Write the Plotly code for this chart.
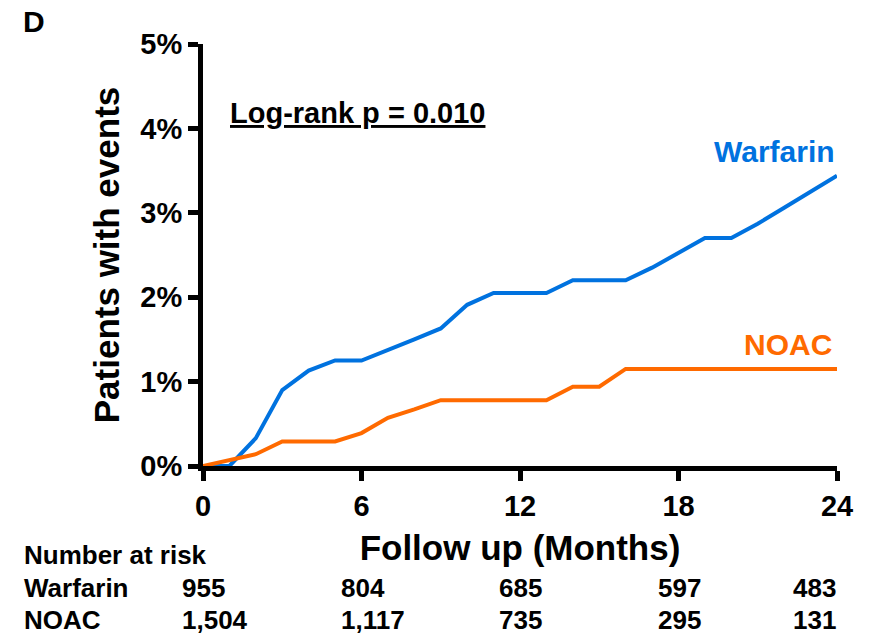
import plotly.graph_objects as go

# ---- data ----
months = list(range(25))
warfarin = [0, 0, 0.33, 0.90, 1.13, 1.25, 1.25, 1.37, 1.50, 1.63, 1.91, 2.05, 2.05,
            2.05, 2.20, 2.20, 2.20, 2.35, 2.52, 2.70, 2.70, 2.87, 3.06, 3.25, 3.44]
noac = [0, 0.07, 0.14, 0.29, 0.29, 0.29, 0.39, 0.57, 0.67, 0.78, 0.78, 0.78, 0.78,
        0.78, 0.94, 0.94, 1.15, 1.15, 1.15, 1.15, 1.15, 1.15, 1.15, 1.15, 1.15]

x_ticks = [0, 6, 12, 18, 24]
y_ticks = [0, 1, 2, 3, 4, 5]
y_tick_labels = ["0%", "1%", "2%", "3%", "4%", "5%"]

risk_months = [0, 6, 12, 18, 24]
warfarin_risk = ["955", "804", "685", "597", "483"]
noac_risk = ["1,504", "1,117", "735", "295", "131"]

BLUE = "#0072DF"
ORANGE = "#FF6A00"
FONT = "Liberation Sans, Arial, sans-serif"

fig = go.Figure()
fig.add_trace(go.Scatter(x=months, y=warfarin, mode="lines", name="Warfarin",
                         line=dict(color=BLUE, width=4), showlegend=False))
fig.add_trace(go.Scatter(x=months, y=noac, mode="lines", name="NOAC",
                         line=dict(color=ORANGE, width=4), showlegend=False))

axis_common = dict(showline=True, linecolor="black", linewidth=5, ticks="outside",
                   ticklen=10, tickwidth=5, tickcolor="black", showgrid=False,
                   zeroline=False, layer="below traces",
                   tickfont=dict(family=FONT, size=29, color="black", weight="bold"))

fig.update_xaxes(range=[0, 24], tickvals=x_ticks, **axis_common,
                 title=dict(text="Follow up (Months)", standoff=16,
                            font=dict(family=FONT, size=35, color="black", weight="bold")))
fig.update_yaxes(range=[0, 5], tickvals=y_ticks, ticktext=y_tick_labels, **axis_common,
                 title=dict(text="Patients with events", standoff=12,
                            font=dict(family=FONT, size=35, color="black", weight="bold")))

# figure sits 8px in from the page corner (default body margin)
ML, MT, PW, PH = 195, 36, 634.5, 422.5
W, H = 862, 627

def px_x(p):  # page pixel -> paper x
    return (p - 8 - ML) / PW

def px_y(p):  # page pixel -> paper y
    return (MT + PH - (p - 8)) / PH

ann = []
ann.append(dict(text="D", xref="paper", yref="paper", x=px_x(21), y=px_y(21),
                xanchor="left", yanchor="middle", showarrow=False,
                font=dict(family=FONT, size=30, color="black", weight="bold")))
ann.append(dict(text="Log-rank p = 0.010", xref="x", yref="y", x=0.95, y=4.18,
                xanchor="left", yanchor="middle", showarrow=False,
                font=dict(family=FONT, size=29, color="black", weight="bold",
                          lineposition="under")))
ann.append(dict(text="Warfarin", xref="x", yref="y", x=24, y=3.73, xanchor="right",
                yanchor="middle", showarrow=False,
                font=dict(family=FONT, size=30, color=BLUE, weight="bold")))
ann.append(dict(text="NOAC", xref="x", yref="y", x=24, y=1.44, xanchor="right",
                yanchor="middle", showarrow=False, xshift=-3,
                font=dict(family=FONT, size=30, color=ORANGE, weight="bold")))

tfont = dict(family=FONT, size=26, color="black", weight="bold")
row_y = [px_y(556), px_y(589), px_y(621)]
for txt, ry in (("Number at risk", row_y[0]), ("Warfarin", row_y[1]), ("NOAC", row_y[2])):
    ann.append(dict(text=txt, xref="paper", yref="paper", x=px_x(22), y=ry,
                    xanchor="left", yanchor="middle", showarrow=False, font=tfont))
for i, m in enumerate(risk_months):
    last = i == len(risk_months) - 1
    for txt, ry in ((warfarin_risk[i], row_y[1]), (noac_risk[i], row_y[2])):
        ann.append(dict(text=txt, xref="x", yref="paper", x=m, y=ry,
                        xanchor="right" if last else "left",
                        xshift=1 if last else -23,
                        yanchor="middle", showarrow=False, font=tfont))

fig.update_layout(width=W, height=H,
                  margin=dict(l=ML, r=W - ML - PW, t=MT, b=H - MT - PH),
                  plot_bgcolor="white", paper_bgcolor="white", annotations=ann)

fig.write_html("out.html")
